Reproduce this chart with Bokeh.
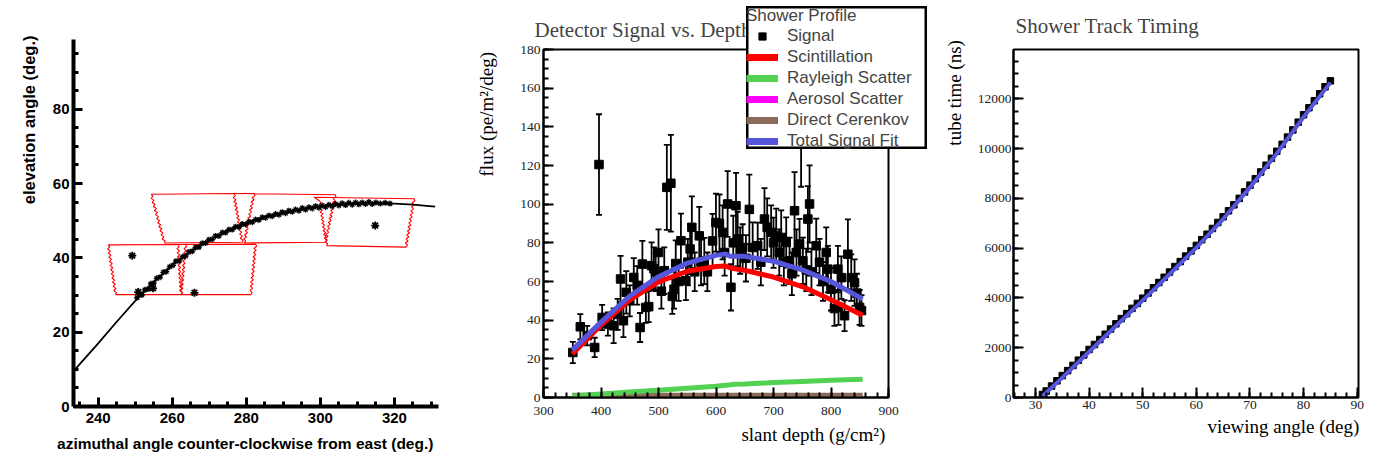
from bokeh.plotting import figure
from bokeh.layouts import row, column
from bokeh.models import Range1d, SingleIntervalTicker, Legend, LegendItem
from bokeh.embed import file_html
from bokeh.resources import INLINE

# ---------------- Panel 1 data: track on the sky ----------------
fit_az = [233.4, 240, 245, 250, 255, 260, 265, 270, 275, 280, 285, 290, 295, 300, 305, 310, 315, 320, 325, 331]
fit_el = [9.6, 17.0, 22.8, 28.4, 33.5, 38.0, 41.8, 44.8, 47.3, 49.3, 50.9, 52.1, 53.1, 53.8, 54.3, 54.6, 54.7, 54.6, 54.3, 53.8]

track_az = [250.5, 251.8, 252.6, 253.4, 254.2, 255.0, 255.8, 256.7, 257.6, 258.4, 259.3, 260.2, 261.0, 261.9,
            262.8, 263.6, 264.5, 265.4, 266.3, 267.2, 268.1, 269.0, 269.9, 270.8, 271.7, 272.6, 273.5, 274.4,
            275.3, 276.2, 277.1, 278.0, 278.9, 279.8, 280.7, 281.6, 282.5, 283.4, 284.3, 285.2, 286.1, 287.0,
            287.9, 288.8, 289.7, 290.6, 291.5, 292.4, 293.3, 294.2, 295.1, 296.0, 296.9, 297.8, 298.7, 299.6,
            300.5, 301.4, 302.3, 303.2, 304.1, 305.0, 305.9, 306.8, 307.7, 308.6, 309.5, 310.4, 311.3, 312.2,
            313.1, 314.0, 315.0, 316.2, 317.5, 318.8]
track_el = [29.3, 30.0, 31.4, 31.6, 33.0, 33.2, 34.5, 34.8, 36.1, 36.3, 37.6, 38.0, 39.1, 39.2,
            40.3, 40.5, 41.6, 41.8, 42.8, 42.9, 43.9, 44.0, 44.9, 45.0, 45.9, 45.9, 46.8, 46.8,
            47.6, 47.6, 48.4, 48.3, 49.1, 49.0, 49.7, 49.6, 50.3, 50.2, 50.9, 50.8, 51.4, 51.2,
            51.8, 51.6, 52.3, 52.0, 52.7, 52.4, 53.0, 52.7, 53.4, 53.0, 53.6, 53.3, 53.9, 53.5,
            54.1, 53.7, 54.3, 53.9, 54.5, 54.1, 54.7, 54.2, 54.8, 54.3, 54.9, 54.4, 54.9, 54.5,
            55.0, 54.5, 54.9, 54.6, 54.8, 54.6]
noise_az = [249.2, 266.0, 314.8, 254.8, 250.8]
noise_el = [40.6, 30.6, 48.7, 31.8, 30.8]

# mirror outlines: top-left, top-right, bottom-right, bottom-left, top of left edge
mir_tl = [(242.7, 43.5), (261.5, 43.6), (254.3, 57.1), (276.6, 57.3), (298.3, 56.3)]
mir_tr = [(261.5, 43.6), (282.5, 43.7), (276.6, 57.3), (304.0, 57.0), (325.3, 55.9)]
mir_br = [(262.4, 30.1), (281.2, 30.1), (278.9, 44.2), (301.4, 44.2), (323.1, 42.9)]
mir_bl = [(244.7, 30.1), (262.4, 30.1), (257.9, 44.0), (279.4, 44.0), (301.7, 43.3)]
mir_lt = [(242.7, 43.5), (263.6, 43.6), (254.3, 57.1), (282.1, 57.3), (299.8, 55.3)]

# ---------------- Panel 2 data: shower profile ----------------
depth = [351, 364, 376, 389, 396.5, 402, 412, 422, 429, 434, 439, 444, 450, 457, 463, 468, 472, 478, 483, 488,
         492, 495, 500, 505, 510, 514.5, 521.5, 524, 527, 530, 535, 539, 547.6, 551, 555, 558, 563, 570.9, 574,
         579.6, 585, 594, 599.9, 606, 611.5, 615, 620.2, 626, 630, 634.8, 637.7, 642, 646.4, 652, 658, 663.8,
         672.5, 678, 684.3, 689, 695.9, 700, 704.7, 710, 713.4, 718, 722.1, 727.9, 732, 736.6, 740, 745.3, 748,
         751.1, 757, 759.8, 762.7, 766, 774.3, 780, 786, 791.7, 794.6, 800, 806, 812, 813, 818, 823.6, 829.4,
         835.2, 841, 845, 849.7, 853]
signal = [23.3, 36.6, 32.0, 25.9, 120.5, 41.4, 38.0, 37.1, 43.0, 61.3, 39.7, 54.4, 50.0, 62.1, 58.0, 36.2, 69.0,
          46.6, 47.0, 68.2, 66.6, 65.0, 75.0, 55.0, 65.6, 108.7, 110.8, 52.3, 56.0, 69.3, 60.0, 81.1, 60.4, 70.0,
          76.8, 88.0, 65.0, 83.6, 70.0, 70.6, 65.0, 81.0, 90.5, 90.0, 85.4, 75.0, 100.1, 57.0, 80.0, 99.2, 82.0,
          76.0, 77.6, 72.0, 97.3, 77.6, 78.5, 70.0, 92.3, 88.0, 85.4, 80.0, 83.7, 75.0, 82.8, 70.0, 80.2, 70.7,
          64.0, 96.6, 75.0, 79.4, 140.0, 70.7, 66.0, 92.3, 100.1, 65.0, 78.5, 70.0, 60.0, 75.0, 66.4, 56.0, 46.0,
          66.4, 46.6, 62.0, 42.3, 74.1, 62.0, 59.4, 54.0, 46.6, 45.0]
sig_err = [5.5, 6.5, 5.0, 5.0, 26, 6.5, 6.0, 9.0, 8.0, 12, 8.5, 11, 8.0, 10, 10, 7.5, 12, 8.0, 8.0, 12,
           11, 10, 12, 9, 12, 22, 25, 9, 10, 12, 10, 14, 10, 12, 13, 16, 10, 15, 12,
           12, 10, 14, 15, 15, 14, 12, 17, 12, 14, 17, 14, 12, 12, 12, 18, 13,
           12, 12, 16, 15, 14, 13, 14, 12, 14, 12, 13, 12, 11, 20, 12, 13, 31,
           12, 11, 17, 20, 12, 14, 12, 10, 13, 12, 11, 9, 12, 9, 11, 8, 18,
           12, 12, 10, 9, 8]

scint_x = [350, 400, 450, 500, 550, 600, 617, 625, 650, 700, 750, 800, 855]
scint_y = [22.5, 37.5, 50.5, 59.8, 65.3, 67.8, 68.0, 67.0, 65.8, 62.3, 57.4, 50.6, 42.5]
total_x = [350, 400, 450, 500, 550, 600, 617, 625, 650, 700, 750, 800, 855]
total_y = [24.5, 39.0, 52.5, 62.5, 69.5, 73.5, 74.3, 73.0, 73.0, 70.5, 66.0, 60.0, 51.0]
rayl_x = [350, 400, 450, 500, 550, 600, 625, 632, 650, 700, 750, 800, 855]
rayl_y = [0.8, 1.8, 2.8, 3.8, 4.8, 5.8, 6.6, 6.9, 7.0, 7.7, 8.3, 8.9, 9.5]
aer_x = [350, 855]
aer_y = [0.0, 0.0]
cer_x = [350, 855]
cer_y = [1.1, 1.1]

legend_labels = ["Signal", "Scintillation", "Rayleigh Scatter", "Aerosol Scatter", "Direct Cerenkov", "Total Signal Fit"]

# ---------------- Panel 3 data: timing ----------------
view_ang = [31.3, 32, 33, 34, 35, 36, 37, 38, 39, 40, 41, 42, 43, 44, 45, 46, 47, 48, 49, 50, 51, 52, 53, 54, 55,
            56, 57, 58, 59, 60, 61, 62, 63, 64, 65, 66, 67, 68, 69, 70, 71, 72, 73, 74, 75, 76, 77, 78, 79, 80,
            81, 82, 83, 84, 85]
tube_time = [120, 260, 460, 670, 880, 1080, 1290, 1500, 1710, 1930, 2130, 2330, 2540, 2750, 2960, 3170, 3370,
             3580, 3780, 3990, 4200, 4410, 4620, 4830, 5040, 5260, 5460, 5680, 5890, 6110, 6340, 6560, 6790,
             7030, 7260, 7500, 7740, 8000, 8260, 8530, 8790, 9060, 9330, 9610, 9890, 10170, 10460, 10750,
             11060, 11360, 11640, 11920, 12200, 12480, 12720]
tfit_x = [31.3, 35, 40, 45, 50, 55, 60, 65, 70, 75, 80, 85]
tfit_y = [50, 800, 1840, 2870, 3900, 4950, 6020, 7170, 8440, 9800, 11270, 12650]

SANS = "Liberation Sans"
SERIF = "Liberation Serif"
NB = "\u00a0"

COL_SCI = "#ff0000"
COL_RAY = "#52d152"
COL_AER = "#ff00ff"
COL_CER = "#8c6a5a"
COL_TOT = "#5656dc"


def zig(a, b, n=12, amp=0.33):
    pts = []
    for k in range(1, 2 * n):
        t = k / (2 * n)
        off = amp if k % 2 else -amp
        pts.append((a[0] + (b[0] - a[0]) * t + off, a[1] + (b[1] - a[1]) * t))
    return pts


# ================= Figure 1 =================
p1 = figure(width=460, height=460, x_range=Range1d(233.33, 331.9), y_range=Range1d(0, 98.76),
            min_border_left=73, min_border_right=22, min_border_top=39, min_border_bottom=54,
            output_backend="svg", toolbar_location=None)
p1.outline_line_color = None
p1.grid.visible = False
for ax in (p1.xaxis[0], p1.yaxis[0]):
    ax.ticker = SingleIntervalTicker(interval=20, num_minor_ticks=4)
    ax.axis_line_width = 4
    ax.axis_line_color = "black"
    ax.major_tick_in = 9
    ax.major_tick_out = 0
    ax.minor_tick_in = 5
    ax.minor_tick_out = 0
    ax.major_tick_line_width = 3
    ax.minor_tick_line_width = 3
    ax.major_label_text_font = SANS
    ax.major_label_text_font_style = "bold"
    ax.major_label_text_font_size = "15px"
    ax.major_label_text_color = "black"
    ax.axis_label_text_font = SANS
    ax.axis_label_text_font_style = "bold"
    ax.axis_label_text_color = "black"
p1.xaxis.major_label_standoff = 6
p1.yaxis.major_label_standoff = 4
p1.yaxis.axis_label = NB * 45 + "elevation angle (deg.)"
p1.yaxis.axis_label_text_font_size = "16.5px"
p1.yaxis.axis_label_standoff = 12
p1.xaxis.axis_label = "azimuthal angle counter-clockwise from east (deg.)" + NB * 5
p1.xaxis.axis_label_text_font_size = "15.5px"
p1.xaxis.axis_label_standoff = 9

for i in range(len(mir_tl)):
    pts = [mir_tl[i], mir_tr[i]] + zig(mir_tr[i], mir_br[i]) + [mir_br[i], mir_bl[i]] + \
          zig(mir_bl[i], mir_lt[i]) + [mir_lt[i], mir_tl[i]]
    p1.line([q[0] for q in pts], [q[1] for q in pts], line_color="red", line_width=1.1)

p1.line(fit_az, fit_el, line_color="black", line_width=1.8)
p1.scatter(track_az, track_el, marker="asterisk", size=6, line_color="black", line_width=1.3)
p1.scatter(noise_az, noise_el, marker="asterisk", size=8, line_color="black", line_width=1.8)

# ================= Figure 2 =================
p2 = figure(width=480, height=460, x_range=Range1d(300, 900), y_range=Range1d(0, 180),
            min_border_left=83, min_border_right=52, min_border_top=49, min_border_bottom=63,
            output_backend="svg", toolbar_location=None)

p3 = figure(width=438, height=460, x_range=Range1d(25.9, 90.24), y_range=Range1d(0, 13980),
            min_border_left=72, min_border_right=20, min_border_top=49, min_border_bottom=63,
            output_backend="svg", toolbar_location=None)

for p, xt, yt in ((p2, SingleIntervalTicker(interval=100, num_minor_ticks=5),
                   SingleIntervalTicker(interval=20, num_minor_ticks=4)),
                  (p3, SingleIntervalTicker(interval=10, num_minor_ticks=5),
                   SingleIntervalTicker(interval=2000, num_minor_ticks=4))):
    p.grid.visible = False
    p.outline_line_color = "black"
    p.outline_line_width = 2
    p.xaxis.ticker = xt
    p.yaxis.ticker = yt
    for ax in (p.xaxis[0], p.yaxis[0]):
        ax.axis_line_width = 2
        ax.axis_line_color = "black"
        ax.major_tick_in = 10
        ax.major_tick_out = 0
        ax.minor_tick_in = 5
        ax.minor_tick_out = 0
        ax.major_tick_line_width = 2
        ax.minor_tick_line_width = 2
        ax.major_label_text_font = SERIF
        ax.major_label_text_font_size = "13.5px"
        ax.major_label_text_color = "#222222"
        ax.axis_label_text_font = SERIF
        ax.axis_label_text_font_style = "normal"
        ax.axis_label_text_font_size = "19px"
        ax.axis_label_text_color = "black"
    p.title.text_font = SERIF
    p.title.text_font_style = "normal"
    p.title.align = "left"

p2.xaxis.major_label_standoff = 9
p2.yaxis.major_label_standoff = 3
p3.xaxis.major_label_standoff = 3
p3.yaxis.major_label_standoff = 2

p2.title.text = "Detector Signal vs. Depth"
p2.title.text_font_size = "21px"
p2.title.offset = -9
p2.title.standoff = 16
p2.yaxis.axis_label = NB * 46 + "flux (pe/m²/deg)"
p2.yaxis.axis_label_standoff = 20
p2.xaxis.axis_label = NB * 41 + "slant depth (g/cm²)"
p2.xaxis.axis_label_standoff = 6

lo = [s - e for s, e in zip(signal, sig_err)]
hi = [s + e for s, e in zip(signal, sig_err)]
p2.segment(depth, lo, depth, hi, line_color="black", line_width=1.8)
p2.scatter(depth, hi, marker="dash", size=6, line_color="black", line_width=1.8)
p2.scatter(depth, lo, marker="dash", size=6, line_color="black", line_width=1.8)
p2.scatter(depth, signal, marker="square", size=8.5, fill_color="black", line_color="black")
p2.line(aer_x, aer_y, line_color=COL_AER, line_width=5)
p2.line(cer_x, cer_y, line_color=COL_CER, line_width=5)
p2.line(rayl_x, rayl_y, line_color=COL_RAY, line_width=5)
p2.line(scint_x, scint_y, line_color=COL_SCI, line_width=5)
p2.line(total_x, total_y, line_color=COL_TOT, line_width=5)

# ---- legend box (separate small figure overlapping the top right of panel 2) ----
pl = figure(width=181, height=143, x_range=Range1d(0, 1), y_range=Range1d(0, 1),
            min_border=0, min_border_top=0, min_border_bottom=0, min_border_left=0, min_border_right=0,
            x_axis_location=None, y_axis_location=None,
            output_backend="svg", toolbar_location=None)
pl.grid.visible = False
pl.outline_line_color = "black"
pl.outline_line_width = 4
pl.background_fill_color = "white"
lr = [pl.scatter([5], [5], marker="square", size=10, fill_color="black", line_color="black"),
      pl.line([5, 6], [5, 6], line_color=COL_SCI, line_width=7),
      pl.line([5, 6], [5, 6], line_color=COL_RAY, line_width=7),
      pl.line([5, 6], [5, 6], line_color=COL_AER, line_width=7),
      pl.line([5, 6], [5, 6], line_color=COL_CER, line_width=7),
      pl.line([5, 6], [5, 6], line_color=COL_TOT, line_width=7)]
leg = Legend(items=[LegendItem(label=t, renderers=[r]) for t, r in zip(legend_labels, lr)],
             location="top_left", title="Shower Profile",
             title_text_font=SANS, title_text_font_size="17px", title_text_font_style="normal",
             title_standoff=0,
             label_text_font=SANS, label_text_font_size="17px",
             glyph_width=32, glyph_height=18, label_height=18, label_standoff=9,
             spacing=1, padding=5, margin=0,
             border_line_color=None, background_fill_alpha=0.0)
pl.add_layout(leg)

# ================= Figure 3 =================
p3.title.text = "Shower Track Timing"
p3.title.text_font_size = "21px"
p3.title.offset = 2
p3.title.standoff = 23
p3.yaxis.axis_label = NB * 55 + "tube time (ns)"
p3.yaxis.axis_label_standoff = 10
p3.xaxis.axis_label = NB * 41 + "viewing angle (deg)"
p3.xaxis.axis_label_standoff = 4

p3.scatter(view_ang, tube_time, marker="square", size=6.5, fill_color="black", line_color="black")
p3.line(tfit_x, tfit_y, line_color=COL_TOT, line_width=4)

layout = row(column(p1), column(p2), column(pl, margin=(6, 13, 0, -194)), column(p3))
open("out.html", "w").write(file_html(layout, INLINE))
